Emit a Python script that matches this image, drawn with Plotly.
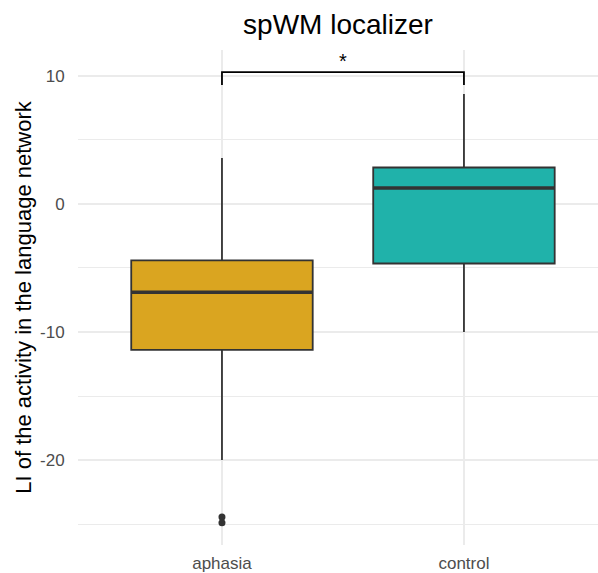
import plotly.graph_objects as go

# Group labels and their positions on the x axis
groups = ["aphasia", "control"]
group_pos = [1, 2]

# Box-plot summary statistics (LI values)
q1 = [-11.4, -4.65]
median = [-6.9, 1.25]
q3 = [-4.4, 2.85]
lower_whisker = [-20.0, -10.0]
upper_whisker = [3.6, 8.6]

# Outlying observations (aphasia group)
outlier_x = [1, 1]
outlier_y = [-24.45, -24.9]

# Y axis ticks
y_ticks = [-20, -10, 0, 10]
y_tick_labels = ["-20", "-10", "0", "10"]
y_minor = [-25, -15, -5, 5]

# Significance bracket between the groups
bracket_low = 9.3
bracket_high = 10.3
star_y = 11.2

fill_colors = ["#DAA520", "#20B2AA"]
edge = "#333333"
box_width = 0.75
font_family = "Liberation Sans, Arial, sans-serif"

fig = go.Figure()

for i, g in enumerate(groups):
    fig.add_trace(go.Box(
        x=[group_pos[i]],
        q1=[q1[i]], median=[median[i]], q3=[q3[i]],
        lowerfence=[lower_whisker[i]], upperfence=[upper_whisker[i]],
        name=g, width=box_width, whiskerwidth=0,
        fillcolor=fill_colors[i],
        line=dict(color=edge, width=1.8),
        boxpoints=False, showlegend=False, hoverinfo="skip",
    ))
    # thicker median bar, as in ggplot
    fig.add_trace(go.Scatter(
        x=[group_pos[i] - box_width / 2, group_pos[i] + box_width / 2],
        y=[median[i], median[i]],
        mode="lines", line=dict(color=edge, width=3.6),
        showlegend=False, hoverinfo="skip",
    ))

fig.add_trace(go.Scatter(
    x=outlier_x, y=outlier_y, mode="markers",
    marker=dict(color=edge, size=7),
    showlegend=False, hoverinfo="skip",
))

fig.add_trace(go.Scatter(
    x=[group_pos[0], group_pos[0], group_pos[1], group_pos[1]],
    y=[bracket_low, bracket_high, bracket_high, bracket_low],
    mode="lines", line=dict(color="black", width=1.8),
    showlegend=False, hoverinfo="skip",
))

fig.add_annotation(
    x=(group_pos[0] + group_pos[1]) / 2, y=star_y, text="*",
    showarrow=False, font=dict(size=20, color="black", family=font_family),
    yanchor="middle",
)

fig.update_layout(
    width=598, height=573,
    margin=dict(l=78, r=0, t=50, b=28),
    paper_bgcolor="white", plot_bgcolor="white",
    font=dict(family=font_family),
    title=dict(
        text="spWM localizer", x=0.5, xref="paper",
        y=1 - 24 / 573, yref="container", yanchor="middle", xanchor="center",
        font=dict(size=28, color="black", family=font_family),
    ),
    xaxis=dict(
        range=[0.405, 2.554], tickvals=group_pos, ticktext=groups,
        showgrid=True, gridcolor="#EBEBEB", gridwidth=1.5,
        zeroline=False, showline=False, automargin=False,
        ticks="outside", ticklen=3, tickcolor="rgba(0,0,0,0)",
        tickfont=dict(size=17, color="#4D4D4D", family=font_family),
    ),
    yaxis=dict(
        range=[-26.64, 12.03], tickvals=y_ticks, ticktext=y_tick_labels,
        showgrid=True, gridcolor="#EBEBEB", gridwidth=1.5,
        minor=dict(tickvals=y_minor, showgrid=True,
                   gridcolor="#EBEBEB", gridwidth=1.2),
        zeroline=False, showline=False, automargin=False,
        ticks="outside", ticklen=9, tickcolor="rgba(0,0,0,0)",
        tickfont=dict(size=17, color="#4D4D4D", family=font_family),
        title=dict(text="LI of the activity in the language network",
                   font=dict(size=22, color="black", family=font_family),
                   standoff=2),
    ),
)

fig.write_html("out.html")
